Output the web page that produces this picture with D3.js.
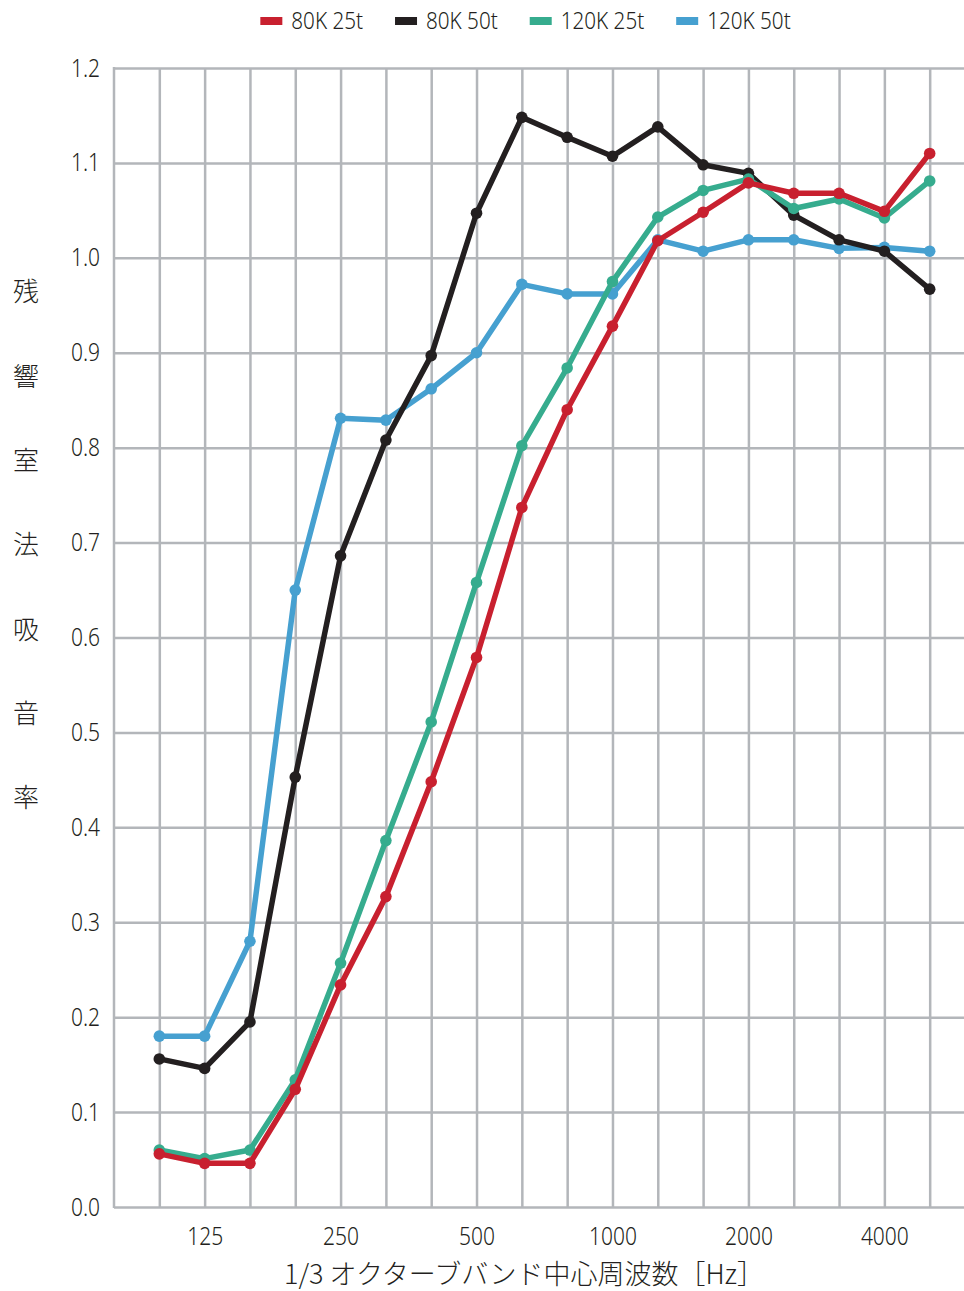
<!DOCTYPE html>
<html><head><meta charset="utf-8">
<script src="https://cdn.jsdelivr.net/npm/d3@7"></script>
<style>
body{margin:0;background:#fff;}
svg{display:block;}
text{fill:#231f20;}
.num{font-family:"Noto Sans","Liberation Sans",sans-serif;font-weight:300;}
.jp{font-family:"Noto Sans CJK JP","Noto Sans",sans-serif;font-weight:300;}
</style></head>
<body>
<script>
const freqs = ["100","125","160","200","250","315","400","500","630","800","1000","1250","1600","2000","2500","3150","4000","5000"];
const xTickLabels = ["125","250","500","1000","2000","4000"];
const yTicks = [0,0.1,0.2,0.3,0.4,0.5,0.6,0.7,0.8,0.9,1.0,1.1,1.2];
const seriesNames = ["80K 25t","80K 50t","120K 25t","120K 50t"];
const seriesColors = ["#c8202f","#231f20","#36ac8e","#46a0d0"];
const v80K25t = [0.056,0.046,0.046,0.124,0.234,0.327,0.448,0.579,0.737,0.840,0.928,1.018,1.048,1.079,1.068,1.068,1.049,1.110];
const v80K50t = [0.156,0.146,0.195,0.453,0.686,0.808,0.897,1.047,1.148,1.127,1.107,1.138,1.098,1.089,1.045,1.019,1.007,0.967];
const v120K25t = [0.060,0.051,0.060,0.134,0.257,0.386,0.511,0.658,0.802,0.884,0.975,1.043,1.071,1.083,1.052,1.062,1.042,1.081];
const v120K50t = [0.180,0.180,0.280,0.650,0.831,0.829,0.862,0.900,0.972,0.962,0.962,1.019,1.007,1.019,1.019,1.010,1.011,1.007];
const seriesValues = [v80K25t, v80K50t, v120K25t, v120K50t];
const drawOrder = [3,1,2,0];

const W=964,H=1291;
const L=114, R=975, T=68, B=1207;
const svg = d3.select("body").append("svg").attr("width",W).attr("height",H);
const x = d3.scalePoint().domain(freqs).range([L,R]).padding(1);
const y = d3.scaleLinear().domain([0,1.2]).range([B,T]);
const gridCol="#b3b6ba";

function condense(sel, f){
  sel.each(function(){
    const w = this.getComputedTextLength();
    if (w>0) d3.select(this).attr("textLength", w*f).attr("lengthAdjust","spacingAndGlyphs");
  });
}

// horizontal grid + y labels
const gy = svg.append("g").attr("transform",`translate(${L},0)`)
  .call(d3.axisLeft(y).tickValues(yTicks).tickSize(-(W-L)).tickPadding(14).tickFormat(d3.format(".1f")));
gy.select(".domain").remove();
gy.selectAll(".tick line").attr("stroke",gridCol).attr("stroke-width",2.5);
gy.selectAll(".tick text").attr("class","num").attr("font-size",25).style("fill","#231f20");
condense(gy.selectAll(".tick text"), 0.84);

// vertical grid
const gx = svg.append("g").attr("transform",`translate(0,${B})`)
  .call(d3.axisBottom(x).tickSize(-(B-T)).tickPadding(20)
     .tickFormat(d=>xTickLabels.includes(d)?d:""));
gx.select(".domain").remove();
gx.selectAll(".tick line").attr("stroke",gridCol).attr("stroke-width",2.5);
gx.selectAll(".tick text").attr("class","num").attr("font-size",25).style("fill","#231f20");
condense(gx.selectAll(".tick text"), 0.84);
// left axis line
svg.append("line").attr("x1",L).attr("x2",L).attr("y1",T-1).attr("y2",B+1)
  .attr("stroke",gridCol).attr("stroke-width",2.5);

// series
const line = d3.line().x((d,i)=>x(freqs[i])).y(d=>y(d));
drawOrder.forEach(si=>{
  const g = svg.append("g");
  g.append("path").datum(seriesValues[si]).attr("d",line).attr("fill","none")
    .attr("stroke",seriesColors[si]).attr("stroke-width",5.5).attr("stroke-linejoin","round");
  g.selectAll("circle").data(seriesValues[si]).join("circle")
    .attr("cx",(d,i)=>x(freqs[i])).attr("cy",d=>y(d)).attr("r",5.8).attr("fill",seriesColors[si]);
});

// legend
const lg = svg.append("g");
let cx = 0;
seriesNames.forEach((n,i)=>{
  const it = lg.append("g").attr("transform",`translate(${cx},0)`);
  it.append("rect").attr("x",0).attr("y",17).attr("width",22).attr("height",8).attr("fill",seriesColors[i]);
  const t = it.append("text").attr("class","num").attr("x",31).attr("y",29).attr("font-size",24).text(n);
  condense(t, 0.86);
  const w = +t.attr("textLength");
  cx += 31 + w + 32;
});
const lw = cx - 32;
lg.attr("transform",`translate(${525.5 - lw/2},0)`);

// axis titles
svg.append("text").attr("class","jp").attr("x",524).attr("y",1284).attr("text-anchor","middle")
  .attr("font-size",27).text("1/3 オクターブバンド中心周波数［Hz］");
const yt = "残響室法吸音率".split("");
yt.forEach((c,i)=>{
  svg.append("text").attr("class","jp").attr("x",26).attr("y",292+i*84.3).attr("dy","0.36em")
   .attr("text-anchor","middle").attr("font-size",26).text(c);
});
</script>
</body></html>
